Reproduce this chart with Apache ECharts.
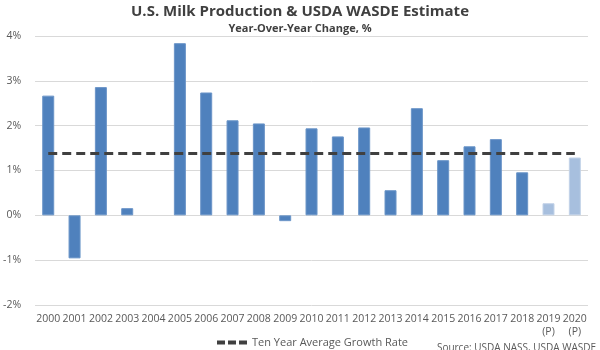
<!DOCTYPE html>
<html>
<head>
<meta charset="utf-8">
<script src="https://cdn.jsdelivr.net/npm/echarts@6/dist/echarts.min.js"></script>
<style>
  html, body { margin: 0; padding: 0; background: #fff; }
  #main { width: 600px; height: 350px; }
</style>
</head>
<body>
<div id="main"></div>
<script>
// data
var years = ['2000','2001','2002','2003','2004','2005','2006','2007','2008','2009','2010',
             '2011','2012','2013','2014','2015','2016','2017','2018','2019\n(P)','2020\n(P)'];
var yoyChange = [2.67, -0.96, 2.86, 0.16, 0, 3.84, 2.74, 2.12, 2.05, -0.13, 1.94,
                 1.76, 1.96, 0.56, 2.39, 1.23, 1.54, 1.70, 0.96, 0.27, 1.29];
var projected = [false, false, false, false, false, false, false, false, false, false, false,
                 false, false, false, false, false, false, false, false, true, true];
var tenYearAvg = 1.38;

var avgLine = years.map(function () { return tenYearAvg; });

var barData = yoyChange.map(function (v, i) {
    return {
        value: v,
        itemStyle: {
            color: projected[i] ? '#a7bfde' : '#4f81bd',
            borderColor: projected[i] ? '#c3d3e8' : '#6b95c8',
            borderWidth: v === 0 ? 0 : 1
        }
    };
});

var myChart = echarts.init(document.getElementById('main'));
var option = {
    animation: false,
    textStyle: { fontFamily: 'Open Sans, Liberation Sans, sans-serif' },
    title: {
        text: 'U.S. Milk Production & USDA WASDE Estimate',
        subtext: 'Year-Over-Year Change, %',
        left: 'center',
        top: -1,
        itemGap: 4,
        textStyle: { fontSize: 15, fontWeight: 'bold', color: '#404040' },
        subtextStyle: { fontSize: 11, fontWeight: 'bold', color: '#404040' }
    },
    legend: {
        data: [{
            name: 'Ten Year Average Growth Rate',
            icon: 'path://M0,0H8V4H0Z M11,0H19V4H11Z M22,0H30V4H22Z'
        }],
        left: 212,
        bottom: -3,
        itemWidth: 30,
        itemHeight: 4,
        itemGap: 6,
        textStyle: { fontSize: 11, color: '#595959' }
    },
    graphic: [{
        type: 'text',
        right: 4,
        bottom: -3,
        style: { text: 'Source: USDA NASS, USDA WASDE', fontSize: 10, fill: '#595959',
                 fontFamily: 'Open Sans, Liberation Sans, sans-serif' }
    }],
    grid: { left: 32, right: 12, top: 36, bottom: 45 },
    xAxis: {
        type: 'category',
        data: years,
        axisLine: { show: false },
        axisTick: { show: false },
        axisLabel: { interval: 0, fontSize: 10.5, color: '#595959', margin: 8, lineHeight: 13 }
    },
    yAxis: {
        type: 'value',
        min: -2,
        max: 4,
        interval: 1,
        axisLabel: { formatter: '{value}%', fontSize: 10.5, color: '#595959', margin: 14 },
        splitLine: { lineStyle: { color: '#d9d9d9', width: 1 } },
        axisLine: { show: false },
        axisTick: { show: false }
    },
    series: [
        {
            name: 'YoY',
            type: 'bar',
            barWidth: 12,
            data: barData
        },
        {
            name: 'Ten Year Average Growth Rate',
            type: 'line',
            data: avgLine,
            symbol: 'none',
            lineStyle: { color: '#404040', width: 3, type: [9, 5] },
            itemStyle: { color: '#404040' },
            z: 5
        }
    ]
};
myChart.setOption(option);
</script>
</body>
</html>
